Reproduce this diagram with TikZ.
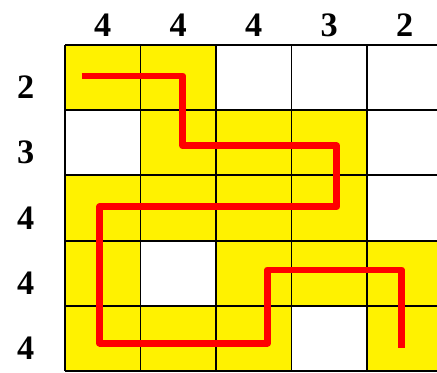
\documentclass[tikz,border=0pt]{standalone}
\usepackage{fontspec}
\setmainfont{Liberation Serif}
\begin{document}
\begin{tikzpicture}[x=1.51cm, y=-1.306cm]
        \tikzstyle{clue}=[font=\fontsize{19.5}{21}\selectfont\bfseries, inner sep=0pt];
        \tikzstyle{cell}=[fill=yellow];
        \tikzstyle{gridline}=[draw=black, line width=1.1pt];
        \tikzstyle{route}=[draw=red, line width=3.9pt, line join=round];

        \useasboundingbox (-0.861,-0.684) rectangle (4.927,5.013);

        % shaded cells
        \foreach \c/\r in {0/0,1/0,1/1,2/1,3/1,0/2,1/2,2/2,3/2,0/3,2/3,3/3,4/3,0/4,1/4,2/4,4/4}
            \fill[cell] (\c,\r) rectangle ++(1,1);

        \foreach \k in {0,...,5} {
            \draw[gridline] (\k,0) -- (\k,5);
            \draw[gridline] (0,\k) -- (5,\k);
        }

        % clues
        \foreach \n [count=\i] in {4,4,4,3,2}
            \node[clue] (col\i) at (\i-0.5,-0.3) {\n};
        \foreach \n [count=\i] in {2,3,4,4,4}
            \node[clue] (row\i) at (-0.52,\i-0.35) {\n};

        % route
        \draw[route] (0.225,0.48) -- (1.56,0.48) -- (1.56,1.55) -- (3.6,1.55) -- (3.6,2.48)
            -- (0.46,2.48) -- (0.46,4.57) -- (2.68,4.57) -- (2.68,3.45) -- (4.46,3.45) -- (4.46,4.64);
\end{tikzpicture}
\end{document}
